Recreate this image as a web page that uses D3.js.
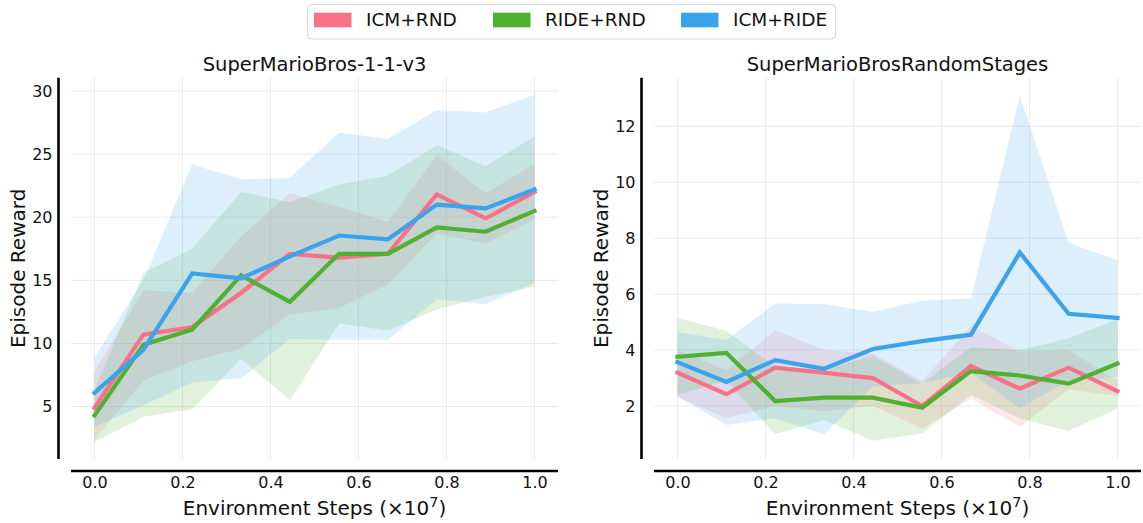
<!DOCTYPE html>
<html><head><meta charset="utf-8">
<script src="https://cdn.jsdelivr.net/npm/d3@7"></script>
<style>body{margin:0;background:#fff}svg{display:block;font-family:"DejaVu Sans",sans-serif}</style>
</head><body><svg id="c" width="1143" height="523"></svg>
<script>
const seriesNames = ["ICM+RND", "RIDE+RND", "ICM+RIDE"];
const seriesColors = ["#f77189", "#50b131", "#3ba3ec"];
const steps = [0, 0.111, 0.222, 0.333, 0.444, 0.556, 0.667, 0.778, 0.889, 1.0];
const xTicks = [0.0, 0.2, 0.4, 0.6, 0.8, 1.0];
const titles = ["SuperMarioBros-1-1-v3", "SuperMarioBrosRandomStages"];
const yTicksLeft = [5, 10, 15, 20, 25, 30];
const yTicksRight = [2, 4, 6, 8, 10, 12];

// Panel 1: SuperMarioBros-1-1-v3
const icmRnd1Mean = [4.9, 10.7, 11.3, 14.0, 17.1, 16.8, 17.1, 21.8, 19.9, 22.0];
const icmRnd1Lo   = [2.4, 7.05, 8.6, 9.6, 12.3, 12.8, 14.7, 18.7, 17.9, 19.8];
const icmRnd1Hi   = [7.8, 14.2, 14.0, 18.5, 21.9, 20.8, 19.65, 24.9, 21.9, 24.2];
const rideRnd1Mean = [4.3, 9.9, 11.1, 15.4, 13.3, 17.1, 17.1, 19.2, 18.85, 20.5];
const rideRnd1Lo   = [2.2, 4.2, 4.8, 8.8, 5.5, 11.6, 11.0, 12.7, 13.7, 14.5];
const rideRnd1Hi   = [6.3, 15.6, 17.5, 22.0, 21.2, 22.6, 23.3, 25.7, 24.05, 26.4];
const icmRide1Mean = [6.1, 9.5, 15.55, 15.15, 16.9, 18.55, 18.25, 21.0, 20.7, 22.2];
const icmRide1Lo   = [3.4, 5.1, 6.9, 7.25, 10.35, 10.3, 10.3, 13.5, 13.1, 14.8];
const icmRide1Hi   = [8.9, 15.0, 24.2, 23.0, 23.1, 26.7, 26.2, 28.5, 28.3, 29.7];

// Panel 2: SuperMarioBrosRandomStages
const icmRnd2Mean = [3.19, 2.42, 3.37, 3.19, 3.0, 2.0, 3.43, 2.62, 3.37, 2.53];
const icmRnd2Lo   = [2.3, 1.56, 2.0, 1.8, 2.0, 1.2, 2.27, 1.26, 2.6, 2.35];
const icmRnd2Hi   = [4.0, 3.29, 4.71, 4.0, 3.88, 2.9, 4.85, 3.95, 4.0, 2.9];
const rideRnd2Mean = [3.76, 3.9, 2.18, 2.3, 2.3, 1.94, 3.25, 3.09, 2.8, 3.52];
const rideRnd2Lo   = [2.4, 2.9, 0.99, 1.5, 0.76, 1.02, 2.4, 1.55, 1.11, 1.9];
const rideRnd2Hi   = [5.15, 4.69, 3.4, 3.3, 3.79, 2.8, 4.1, 4.0, 4.42, 5.1];
const icmRide2Mean = [3.57, 2.86, 3.64, 3.33, 4.04, 4.32, 4.55, 7.49, 5.3, 5.15];
const icmRide2Lo   = [2.35, 1.32, 1.56, 0.99, 2.7, 2.81, 3.2, 1.92, 2.9, 3.05];
const icmRide2Hi   = [4.65, 4.36, 5.67, 5.64, 5.37, 5.76, 5.85, 13.1, 7.84, 7.2];

const panels = [
  {title: titles[0], yTicks: yTicksLeft, yDomain: [0.85, 31.05], x0: 71, x1: 558,
   series: [[icmRnd1Mean, icmRnd1Lo, icmRnd1Hi], [rideRnd1Mean, rideRnd1Lo, rideRnd1Hi], [icmRide1Mean, icmRide1Lo, icmRide1Hi]]},
  {title: titles[1], yTicks: yTicksRight, yDomain: [0.105, 13.74], x0: 654, x1: 1141,
   series: [[icmRnd2Mean, icmRnd2Lo, icmRnd2Hi], [rideRnd2Mean, rideRnd2Lo, rideRnd2Hi], [icmRide2Mean, icmRide2Lo, icmRide2Hi]]}
];

const svg = d3.select("#c");
const plotTop = 77.7, plotBottom = 459;
const xDom = [-0.0535, 1.0535];

panels.forEach(p => {
  const g = svg.append("g");
  const x = d3.scaleLinear().domain(xDom).range([p.x0, p.x1]);
  const y = d3.scaleLinear().domain(p.yDomain).range([plotBottom, plotTop]);
  // grid
  g.append("g").selectAll("line").data(xTicks).join("line")
    .attr("x1", d => x(d)).attr("x2", d => x(d)).attr("y1", plotTop).attr("y2", plotBottom)
    .attr("stroke", "#ebebeb").attr("stroke-width", 1);
  g.append("g").selectAll("line").data(p.yTicks).join("line")
    .attr("x1", p.x0).attr("x2", p.x1).attr("y1", d => y(d)).attr("y2", d => y(d))
    .attr("stroke", "#ebebeb").attr("stroke-width", 1);
  // bands
  const area = d3.area().x((d, i) => x(steps[i])).y0(d => y(d[0])).y1(d => y(d[1]));
  p.series.forEach((s, k) => {
    const pts = s[1].map((lo, i) => [lo, s[2][i]]);
    g.append("path").datum(pts).attr("d", area)
      .attr("fill", seriesColors[k]).attr("fill-opacity", 0.17).attr("stroke", "none");
  });
  // lines
  const line = d3.line().x((d, i) => x(steps[i])).y(d => y(d));
  p.series.forEach((s, k) => {
    g.append("path").datum(s[0]).attr("d", line)
      .attr("fill", "none").attr("stroke", seriesColors[k]).attr("stroke-width", 4.2)
      .attr("stroke-linejoin", "miter").attr("stroke-linecap", "square");
  });
  // axes (offset spines)
  const yAx = d3.axisLeft(y).tickValues(p.yTicks).tickSize(0).tickPadding(6).tickFormat(d3.format("d"));
  const ya = g.append("g").attr("transform", `translate(${p.x0 - 12.5},0)`).call(yAx);
  ya.select(".domain").attr("d", `M0,${plotTop}V${plotBottom}`).attr("stroke", "#000").attr("stroke-width", 2.6);
  ya.selectAll("text").attr("font-size", 16).attr("fill", "#111").attr("font-family", "DejaVu Sans");
  const xAx = d3.axisBottom(x).tickValues(xTicks).tickSize(0).tickPadding(6).tickFormat(d3.format(".1f"));
  const xa = g.append("g").attr("transform", `translate(0,${plotBottom + 12})`).call(xAx);
  xa.select(".domain").attr("d", `M${p.x0},0H${p.x1}`).attr("stroke", "#000").attr("stroke-width", 2.6);
  xa.selectAll("text").attr("font-size", 16).attr("fill", "#111").attr("font-family", "DejaVu Sans");
  // title
  g.append("text").attr("x", (p.x0 + p.x1) / 2).attr("y", 71).attr("text-anchor", "middle")
    .attr("font-size", 19.5).attr("fill", "#111").text(p.title);
  // x label
  const xl = g.append("text").attr("x", (p.x0 + p.x1) / 2).attr("y", 515).attr("text-anchor", "middle")
    .attr("font-size", 20).attr("fill", "#111");
  xl.append("tspan").text("Environment Steps (×10");
  xl.append("tspan").attr("dy", -8).attr("font-size", 14.5).text("7");
  xl.append("tspan").attr("dy", 8).text(")");
  // y label
  g.append("text").attr("transform", `translate(${p.x0 - 53},${(plotTop + plotBottom) / 2}) rotate(-90)`)
    .attr("text-anchor", "middle").attr("dy", "0.35em").attr("font-size", 20).attr("fill", "#111").text("Episode Reward");
});

// legend
const lg = svg.append("g");
lg.append("rect").attr("x", 307.5).attr("y", 4.5).attr("width", 528).attr("height", 34.5)
  .attr("rx", 4).attr("fill", "#fff").attr("stroke", "#d6d6d6").attr("stroke-width", 1);
const legX = [314, 493, 681];
seriesNames.forEach((n, k) => {
  lg.append("rect").attr("x", legX[k]).attr("y", 12.7).attr("width", 37.5).attr("height", 14.6).attr("fill", seriesColors[k]);
  lg.append("text").attr("x", legX[k] + 52).attr("y", 20).attr("dy", "0.35em")
    .attr("font-size", 18.5).attr("fill", "#111").text(n);
});
</script></body></html>
